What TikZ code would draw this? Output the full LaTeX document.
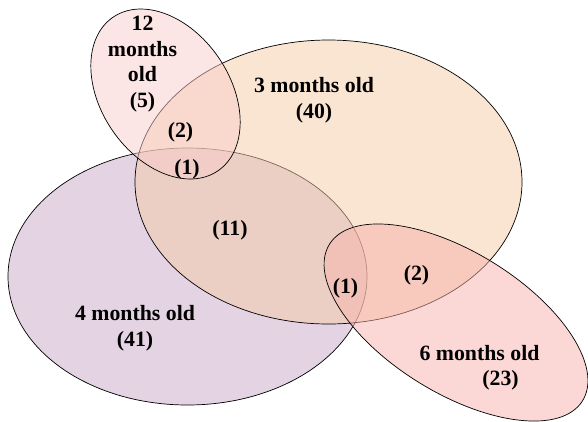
\documentclass[tikz,border=0pt]{standalone}
\usepackage{fontspec}
\setmainfont{Liberation Serif}
\definecolor{cthree}{RGB}{245,203,165}
\definecolor{cfour}{RGB}{199,167,199}
\definecolor{csix}{RGB}{247,177,171}
\definecolor{ctwelve}{RGB}{249,203,203}
\begin{document}
\begin{tikzpicture}[x=1pt,y=-1pt,
  venn/.style={draw=black, line width=0.7pt, fill opacity=0.5},
  lab/.style={font=\fontsize{21.8}{25.8}\selectfont\bfseries, align=center, inner sep=0pt, text=black}]
\useasboundingbox (0,0) rectangle (588,421);
\clip (0,0) rectangle (588,421);
% sets
\draw[venn, fill=cfour] (187.5,276.5) ellipse [x radius=179.5, y radius=128.5];
\draw[venn, fill=cthree] (328.5,182) ellipse [x radius=193.5, y radius=142];
\draw[venn, fill=csix, rotate around={-31.7:(456,322.5)}] (456,322.5) ellipse [x radius=148.8, y radius=70.5];
\draw[venn, fill=ctwelve, rotate around={-55.7:(165.5,94)}] (165.5,94) ellipse [x radius=93, y radius=64.4];
% labels
\node[lab] (twelve) at (142.5,64) {12\\months\\old\\(5)};
\node[lab] (three) at (314,100.5) {3 months old\\(40)};
\node[lab] (four) at (135,328.5) {4 months old\\(41)};
\node[lab] (sixa) at (479.5,353) {6 months old};
\node[lab] (sixb) at (500.5,380) {(23)};
\node[lab] (n11) at (230,230) {(11)};
\node[lab] (twA) at (180.5,132) {(2)};
\node[lab] (twB) at (187,169) {(1)};
\node[lab] (sxA) at (345.5,288) {(1)};
\node[lab] (sxB) at (416.5,275) {(2)};
\end{tikzpicture}
\end{document}
